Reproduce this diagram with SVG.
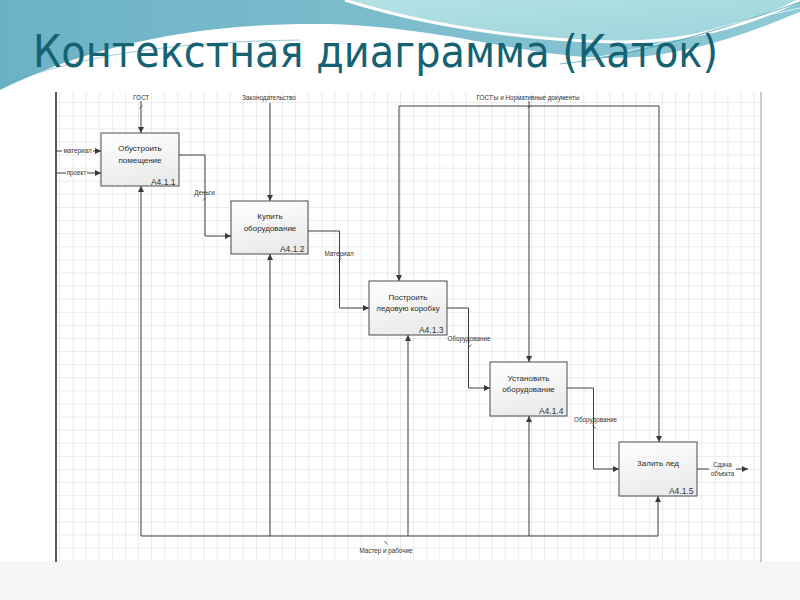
<svg xmlns="http://www.w3.org/2000/svg" width="800" height="600" viewBox="0 0 800 600">
<defs>
<linearGradient id="teal" x1="0" y1="0" x2="1" y2="0">
<stop offset="0" stop-color="#6cb2c5"/>
<stop offset="0.6" stop-color="#80bfcf"/>
<stop offset="1" stop-color="#8ecad6"/>
</linearGradient>
<linearGradient id="cyan" x1="0" y1="0" x2="1" y2="1">
<stop offset="0" stop-color="#b4e2e6"/>
<stop offset="1" stop-color="#9bd3da"/>
</linearGradient>
<linearGradient id="boxfill" x1="0" y1="0" x2="0.3" y2="1">
<stop offset="0" stop-color="#ffffff"/>
<stop offset="1" stop-color="#ebebeb"/>
</linearGradient>
<pattern id="grid" x="7" y="10.5" width="13.1" height="13.1" patternUnits="userSpaceOnUse">
<path d="M0,0 V13.1 M0,0 H13.1" fill="none" stroke="#d0d0d0" stroke-width="0.8"/>
</pattern>
<marker id="arr" markerWidth="6" markerHeight="6" refX="6" refY="3" orient="auto" markerUnits="userSpaceOnUse">
<path d="M0,0 L6,3 L0,6 Z" fill="#3a3a3a"/>
</marker>
<style>
.ln{fill:none;stroke:#3f3f3f;stroke-width:1}
.ar{fill:none;stroke:#3f3f3f;stroke-width:1;marker-end:url(#arr)}
.tk{fill:none;stroke:#3f3f3f;stroke-width:0.8}
.box{fill:url(#boxfill);stroke:#4a4a4a;stroke-width:1}
.bt{font-family:"Liberation Sans",Arial,sans-serif;font-size:8px;fill:#2a2a2a;text-anchor:middle}
.id{font-family:"Liberation Sans",Arial,sans-serif;font-size:8.5px;fill:#333;text-anchor:end}
.lb{font-family:"Liberation Sans",Arial,sans-serif;font-size:6.3px;fill:#333;text-anchor:middle}
</style>
</defs>
<!-- background -->
<rect x="0" y="0" width="800" height="600" fill="#ffffff"/>
<rect x="0" y="561" width="800" height="39" fill="#f6f6f6"/>
<path d="M0,0 H800 V12 C760,28 690,58 610,58 C530,58 450,28 330,24 C200,22 90,45 0,90 Z" fill="url(#teal)"/>
<path d="M345,0 C420,24 520,40 615,42 C700,43 760,20 800,0 Z" fill="url(#cyan)"/>
<path d="M345,0 C420,24 520,40 615,42 C700,43 760,20 800,0" fill="none" stroke="#ffffff" stroke-width="3"/>
<path d="M560,64 C640,55 720,30 800,2" fill="none" stroke="#4fa0b4" stroke-width="0.8"/>
<path d="M570,62 C650,50 730,22 800,8" fill="none" stroke="#ffffff" stroke-width="0.7"/>
<path d="M0,86 C80,55 170,42 300,40" fill="none" stroke="#5ea8bb" stroke-width="0.6"/>
<path d="M0,92 C90,60 180,48 320,46" fill="none" stroke="#ffffff" stroke-width="0.6"/>
<text x="33" y="67" font-family="'DejaVu Sans',Verdana,sans-serif" font-size="44" fill="#156273" textLength="685" lengthAdjust="spacingAndGlyphs">Контекстная диаграмма (Каток)</text>
<!-- grid -->
<rect x="56" y="92" width="706" height="469" fill="url(#grid)"/>
<line x1="56" y1="92" x2="56" y2="562" stroke="#222" stroke-width="1.5"/>
<line x1="761" y1="92" x2="761" y2="562" stroke="#9a9a9a" stroke-width="1"/>
<!-- connectors -->
<g id="connectors">
<line class="ar" x1="141" y1="101" x2="141" y2="133"/>
<line class="tk" x1="139.5" y1="108.5" x2="142.5" y2="105.5"/>
<line class="ar" x1="270" y1="103" x2="270" y2="201"/>
<line class="ln" x1="56" y1="151" x2="62" y2="151"/>
<line class="ar" x1="93" y1="151" x2="101" y2="151"/>
<line class="ln" x1="56" y1="173" x2="66" y2="173"/>
<line class="ar" x1="87" y1="173" x2="101" y2="173"/>
<path class="ar" d="M179,155 H205 V236 H231"/>
<line class="tk" x1="203" y1="200.5" x2="206" y2="197.5"/>
<path class="ar" d="M308,231 H339.5 V308 H369"/>
<line class="tk" x1="338.5" y1="261.5" x2="341.5" y2="258.5"/>
<path class="ar" d="M447,308 H468.5 V388 H490"/>
<line class="tk" x1="468.5" y1="347.5" x2="471.5" y2="344.5"/>
<path class="ar" d="M567,388 H593.5 V469 H619"/>
<line class="tk" x1="592.5" y1="425" x2="595.5" y2="428.5"/>
<line class="ln" x1="697" y1="469" x2="709" y2="469"/>
<line class="ar" x1="736" y1="469" x2="748" y2="469"/>
<line class="ln" x1="399" y1="106" x2="659" y2="106"/>
<line class="ar" x1="399" y1="106" x2="399" y2="281"/>
<line class="ar" x1="529" y1="101" x2="529" y2="362"/>
<line class="ar" x1="659" y1="106" x2="659" y2="442"/>
<line class="tk" x1="527.5" y1="108.5" x2="530.5" y2="105.5"/>
<line class="ln" x1="141" y1="536" x2="658" y2="536"/>
<line class="ar" x1="141" y1="536" x2="141" y2="186"/>
<line class="ar" x1="270" y1="536" x2="270" y2="254"/>
<line class="ar" x1="408" y1="536" x2="408" y2="335"/>
<line class="ar" x1="529" y1="536" x2="529" y2="416"/>
<line class="ar" x1="658" y1="536" x2="658" y2="496"/>
<line class="tk" x1="384.5" y1="541" x2="387.5" y2="544.5"/>
<text class="lb" x="141" y="100">ГОСТ</text>
<text class="lb" x="269" y="100">Законодательство</text>
<text class="lb" x="528" y="99.5">ГОСТ'ы и Нормативные документы</text>
<text class="lb" x="77.5" y="153">материал</text>
<text class="lb" x="76.5" y="175">проект</text>
<text class="lb" x="204.5" y="195">Деньги</text>
<text class="lb" x="339" y="255.5">Материал</text>
<text class="lb" x="469" y="341">Оборудование</text>
<text class="lb" x="595.5" y="422">Оборудование</text>
<text class="lb" x="722.5" y="466.5">Сдача</text>
<text class="lb" x="722.5" y="476">объекта</text>
<text class="lb" x="386" y="553">Мастер и рабочие</text>
</g>
<!-- nodes -->
<g id="node-a411">
<rect class="box" x="101" y="133" width="78" height="53"/>
<text class="bt" x="140" y="151">Обустроить</text>
<text class="bt" x="140" y="162.5">помещение</text>
<text class="id" x="175.5" y="184.5">А4.1.1</text>
</g>
<g id="node-a412">
<rect class="box" x="231" y="201" width="77" height="53"/>
<text class="bt" x="270" y="219">Купить</text>
<text class="bt" x="270" y="230.5">оборудование</text>
<text class="id" x="304.5" y="252">А4.1.2</text>
</g>
<g id="node-a413">
<rect class="box" x="369" y="281" width="78" height="54"/>
<text class="bt" x="408" y="299.5">Построить</text>
<text class="bt" x="408" y="311">ледовую коробку</text>
<text class="id" x="443.5" y="332.5">А4.1.3</text>
</g>
<g id="node-a414">
<rect class="box" x="490" y="362" width="77" height="54"/>
<text class="bt" x="528.5" y="380.5">Установить</text>
<text class="bt" x="528.5" y="392">оборудование</text>
<text class="id" x="563.5" y="413.5">А4.1.4</text>
</g>
<g id="node-a415">
<rect class="box" x="619" y="442" width="78" height="54"/>
<text class="bt" x="658" y="465.5">Залить лед</text>
<text class="id" x="693.5" y="493.5">А4.1.5</text>
</g>
</svg>
